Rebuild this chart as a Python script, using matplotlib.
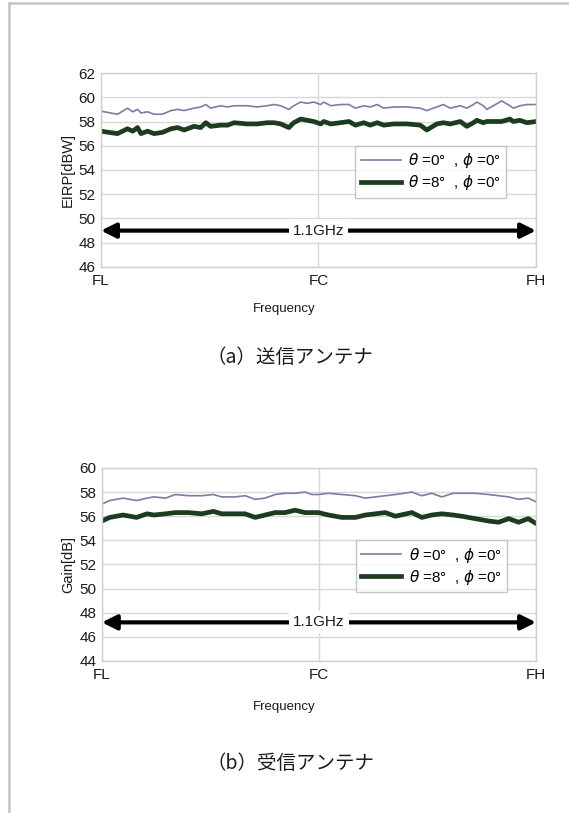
import matplotlib
matplotlib.use("Agg")
import matplotlib.pyplot as plt
from matplotlib.lines import Line2D

# position along band: 0 = FL, 0.5 = FC, 1 = FH
tx_pos = [0.000, 0.038, 0.061, 0.073, 0.084, 0.092, 0.107, 0.122, 0.141, 0.161, 0.176, 0.191,
          0.214, 0.229, 0.241, 0.252, 0.275, 0.291, 0.306, 0.336, 0.359, 0.382, 0.398, 0.413,
          0.432, 0.443, 0.459, 0.474, 0.489, 0.505, 0.512, 0.528, 0.550, 0.570, 0.585, 0.604,
          0.619, 0.635, 0.650, 0.673, 0.703, 0.734, 0.749, 0.772, 0.787, 0.803, 0.826, 0.841,
          0.856, 0.864, 0.879, 0.887, 0.902, 0.921, 0.940, 0.948, 0.963, 0.979, 1.000]
tx_theta0 = [58.85, 58.6, 59.1, 58.8, 59.0, 58.7, 58.8, 58.6, 58.6, 58.9, 59.0, 58.9,
             59.1, 59.2, 59.4, 59.1, 59.3, 59.2, 59.3, 59.3, 59.2, 59.3, 59.4, 59.3,
             59.0, 59.3, 59.6, 59.5, 59.6, 59.4, 59.6, 59.3, 59.4, 59.4, 59.1, 59.3,
             59.2, 59.4, 59.1, 59.2, 59.2, 59.1, 58.9, 59.2, 59.4, 59.1, 59.3, 59.1,
             59.4, 59.6, 59.3, 59.0, 59.3, 59.7, 59.3, 59.1, 59.3, 59.4, 59.4]
tx_theta8 = [57.2, 57.0, 57.4, 57.2, 57.5, 57.0, 57.2, 57.0, 57.1, 57.4, 57.5, 57.3,
             57.6, 57.5, 57.9, 57.6, 57.7, 57.7, 57.9, 57.8, 57.8, 57.9, 57.9, 57.8,
             57.5, 57.9, 58.2, 58.1, 58.0, 57.8, 58.0, 57.8, 57.9, 58.0, 57.7, 57.9,
             57.7, 57.9, 57.7, 57.8, 57.8, 57.7, 57.3, 57.8, 57.9, 57.8, 58.0, 57.6,
             57.9, 58.1, 57.9, 58.0, 58.0, 58.0, 58.2, 58.0, 58.1, 57.9, 58.0]

rx_pos = [0.000, 0.018, 0.049, 0.080, 0.104, 0.120, 0.147, 0.169, 0.200, 0.230, 0.257, 0.276,
          0.307, 0.330, 0.353, 0.376, 0.399, 0.422, 0.445, 0.468, 0.484, 0.499, 0.522, 0.553,
          0.584, 0.607, 0.630, 0.653, 0.676, 0.714, 0.737, 0.760, 0.783, 0.809, 0.829, 0.860,
          0.891, 0.914, 0.937, 0.960, 0.982, 1.000]
rx_theta0 = [57.0, 57.3, 57.5, 57.3, 57.5, 57.6, 57.5, 57.8, 57.7, 57.7, 57.8, 57.6,
             57.6, 57.7, 57.4, 57.5, 57.8, 57.9, 57.9, 58.0, 57.8, 57.8, 57.9, 57.8,
             57.7, 57.5, 57.6, 57.7, 57.8, 58.0, 57.7, 57.9, 57.6, 57.9, 57.9, 57.9,
             57.8, 57.7, 57.6, 57.4, 57.5, 57.2]
rx_theta8 = [55.6, 55.9, 56.1, 55.9, 56.2, 56.1, 56.2, 56.3, 56.3, 56.2, 56.4, 56.2,
             56.2, 56.2, 55.9, 56.1, 56.3, 56.3, 56.5, 56.3, 56.3, 56.3, 56.1, 55.9,
             55.9, 56.1, 56.2, 56.3, 56.0, 56.3, 55.9, 56.1, 56.2, 56.1, 56.0, 55.8,
             55.6, 55.5, 55.8, 55.5, 55.8, 55.4]

x_ticks = [0.0, 0.5, 1.0]
x_labels = ["FL", "FC", "FH"]
legend_labels = [r"$\theta$ =0°  , $\phi$ =0°", r"$\theta$ =8°  , $\phi$ =0°"]

plt.rcParams["font.family"] = ["Liberation Sans", "DejaVu Sans"]
plt.rcParams["mathtext.fontset"] = "dejavusans"

fig = plt.figure(figsize=(5.69, 8.13), dpi=100)
fig.patch.set_facecolor("white")

# light gray page border (top and left)
fig.add_artist(Line2D([0.016, 0.016], [0.0, 0.9965], color="#c4c4c4", lw=1.8))
fig.add_artist(Line2D([0.016, 1.0], [0.9965, 0.9965], color="#c4c4c4", lw=1.8))


def panel(rect, pos, y0, y8, ylim, ylabel, arrow_y, caption, cap_y, freq_y):
    ax = fig.add_axes(rect)
    ax.plot(pos, y0, color="#7c7ca4", lw=1.2, label=legend_labels[0])
    ax.plot(pos, y8, color="#1d3b1f", lw=3.4, label=legend_labels[1],
            solid_joinstyle="round")
    ax.set_xlim(0, 1)
    ax.set_ylim(*ylim)
    ax.set_yticks(range(ylim[0], ylim[1] + 1, 2))
    ax.set_xticks(x_ticks)
    ax.set_xticklabels(x_labels)
    ax.tick_params(length=0, labelsize=11, colors="#1a1a1a", pad=4)
    ax.tick_params(axis="x", pad=5)
    ax.grid(True, color="#d8d8d8", lw=1.0)
    ax.set_axisbelow(True)
    for s in ax.spines.values():
        s.set_color("#d0d0d0")
        s.set_linewidth(1.0)
    ax.set_ylabel(ylabel, fontsize=10.5, color="#1a1a1a", labelpad=3)

    ax.annotate("", xy=(1.0, arrow_y), xytext=(0.0, arrow_y),
                arrowprops=dict(arrowstyle="<|-|>", color="black", lw=3,
                                mutation_scale=22, shrinkA=0, shrinkB=0))
    ax.text(0.5, arrow_y, "1.1GHz", ha="center", va="center", fontsize=11,
            color="#1a1a1a", bbox=dict(facecolor="white", edgecolor="none", pad=3))

    leg = ax.legend(loc="upper left", bbox_to_anchor=(0.585, 0.625), fontsize=11,
                    frameon=True, fancybox=False, borderpad=0.35, handlelength=2.6,
                    labelspacing=0.2, handletextpad=0.5, borderaxespad=0)
    leg.get_frame().set_edgecolor("#b8b8b8")
    leg.get_frame().set_linewidth(1.0)

    fig.text(0.5, freq_y, "Frequency", ha="center", va="center", fontsize=9.5,
             color="#1a1a1a")
    fig.text(0.51, cap_y, caption, ha="center", va="center", fontsize=14,
             color="#1a1a1a", family=["Noto Sans CJK JP", "DejaVu Sans"])
    return ax


panel([0.1775, 0.6716, 0.7645, 0.2386], tx_pos, tx_theta0, tx_theta8, (46, 62),
      "EIRP[dBW]", 49, "（a）送信アンテナ", 1 - 357 / 813, 1 - 309 / 813)
panel([0.179, 0.187, 0.763, 0.2374], rx_pos, rx_theta0, rx_theta8, (44, 60),
      "Gain[dB]", 47.2, "（b）受信アンテナ", 1 - 763 / 813, 1 - 707 / 813)

fig.savefig("out.png", dpi=100)
